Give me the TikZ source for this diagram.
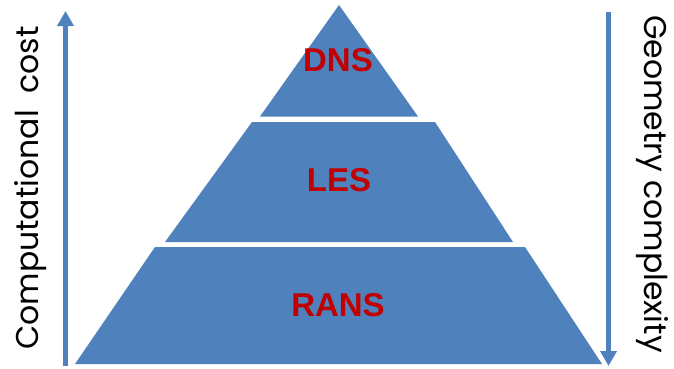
\documentclass[tikz,border=0pt]{standalone}
\usepackage{fontspec}
\setmainfont{Liberation Sans}
\newfontfamily\sidefont{Poppins}
\usetikzlibrary{arrows.meta}
\definecolor{pyblue}{HTML}{4F81BD}
\definecolor{labred}{HTML}{C00000}
\tikzset{
  band/.style={fill=pyblue, draw=none},
  lvl/.style={text=labred, font=\fontsize{33}{36}\selectfont\bfseries, inner sep=0pt},
  sidetxt/.style={font=\sidefont\fontsize{31.5}{34}\selectfont, inner sep=0pt},
  axarrow/.style={draw=pyblue, line width=4.5pt, -{Triangle[width=16pt,length=15pt]}}
}
\begin{document}
\begin{tikzpicture}[x=1pt,y=-1pt]
\useasboundingbox (0,0) rectangle (674,368);
% pyramid bands
\fill[band] (339,5) -- (418,116.5) -- (260,116.5) -- cycle;
\fill[band] (252,122) -- (435,122) -- (513,242) -- (165,242) -- cycle;
\fill[band] (155,247) -- (525,247) -- (602,364) -- (75,364) -- cycle;
% labels
\node[lvl] (dns) at (338,60) {DNS};
\node[lvl] (les) at (339,180) {LES};
\node[lvl] (rans) at (338,305) {RANS};
% arrows
\coordinate (lb) at (65.5,366);
\coordinate (lt) at (65.5,11);
\coordinate (rt) at (608.5,12);
\coordinate (rb) at (608.5,366);
\draw[axarrow] (lb) -- (lt);
\draw[axarrow] (rt) -- (rb);
% side texts
\node[sidetxt, rotate=90] (cc) at (31,188) {Computational\ \ cost};
\node[sidetxt, rotate=-90] (gc) at (652,184) {Geometry complexity};
\end{tikzpicture}
\end{document}
